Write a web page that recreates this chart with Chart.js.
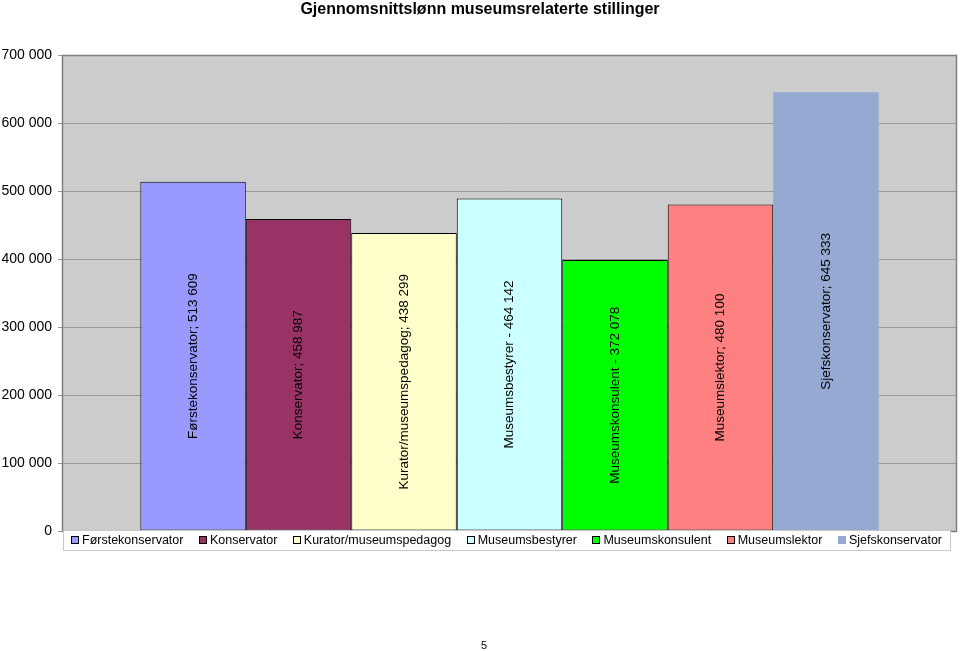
<!DOCTYPE html>
<html>
<head>
<meta charset="utf-8">
<script src="https://cdn.jsdelivr.net/npm/chart.js@4/dist/chart.umd.min.js"></script>
<style>
html,body{margin:0;padding:0;background:#fff;}
canvas{display:block;}
</style>
</head>
<body>
<canvas id="c" width="960" height="651"></canvas>
<script>
const chartTitle = 'Gjennomsnittslønn museumsrelaterte stillinger';
const categories = ['Førstekonservator','Konservator','Kurator/museumspedagog','Museumsbestyrer','Museumskonsulent','Museumslektor','Sjefskonservator'];
// bar heights as drawn in the picture
const barValues = [513609, 458987, 438299, 489000, 398500, 480100, 645333];
// numbers printed in the data labels
const labelValues = [513609, 458987, 438299, 464142, 372078, 480100, 645333];
const labelSeparators = ['; ', '; ', '; ', ' - ', ' - ', '; ', '; '];
const yTicks = [0, 100000, 200000, 300000, 400000, 500000, 600000, 700000];
const barColors = ['#9999FF','#993366','#FFFFCC','#CCFFFF','#00FF00','#FF8080','#95A9D2'];
const barBorderWidths = [1,1,1,1,1,1,0];
const pageNumber = '5';

const FONT = "'Liberation Sans', Arial, sans-serif";
function fmt(v){ return String(v).replace(/\B(?=(\d{3})+(?!\d))/g, ' '); }

const deco = {
  id: 'deco',
  beforeDraw(chart){
    const {ctx, chartArea:a} = chart;
    ctx.save();
    ctx.fillStyle = '#fff';
    ctx.fillRect(0,0,chart.width,chart.height);
    ctx.fillStyle = '#CCCCCC';
    ctx.fillRect(a.left, a.top, a.right-a.left, a.bottom-a.top);
    ctx.restore();
  },
  beforeDatasetsDraw(chart){
    const {ctx, chartArea:a} = chart;
    ctx.save();
    ctx.strokeStyle = '#808080';
    ctx.lineWidth = 1.5;
    ctx.strokeRect(a.left+0.5, a.top+0.5, a.right-a.left-1, a.bottom-a.top);
    ctx.restore();
  },
  afterDatasetsDraw(chart){
    const ctx = chart.ctx;
    ctx.save();
    ctx.fillStyle = '#000';
    ctx.font = '13.5px ' + FONT;
    ctx.textAlign = 'center';
    ctx.textBaseline = 'middle';
    chart.data.datasets.forEach((ds, i) => {
      const el = chart.getDatasetMeta(i).data[0];
      const cx = el.x, cy = (el.y + el.base)/2;
      ctx.save();
      ctx.translate(cx, cy);
      ctx.rotate(-Math.PI/2);
      ctx.fillText(categories[i] + labelSeparators[i] + fmt(labelValues[i]), 0, 0);
      ctx.restore();
    });
    ctx.restore();
  },
  afterDraw(chart){
    const ctx = chart.ctx;
    ctx.save();
    // title
    ctx.fillStyle = '#000';
    ctx.font = 'bold 16px ' + FONT;
    ctx.textAlign = 'center';
    ctx.textBaseline = 'middle';
    ctx.fillText(chartTitle, 480, 10);
    // legend
    const bx = 63, by = 530, bw = 887, bh = 20;
    ctx.fillStyle = '#fff';
    ctx.fillRect(bx, by, bw, bh);
    ctx.strokeStyle = '#C8C8C8';
    ctx.lineWidth = 1;
    ctx.strokeRect(bx+0.5, by+0.5, bw, bh);
    ctx.font = '12.5px ' + FONT;
    const sq = 8, g1 = 3, g2 = 15.5;
    const widths = categories.map(c => ctx.measureText(c).width);
    let total = widths.reduce((s,w)=>s+sq+g1+w,0) + g2*(categories.length-1);
    let x = bx + (bw - total)/2;
    const cy = by + bh/2;
    ctx.textAlign = 'left';
    categories.forEach((c,i) => {
      const sx = Math.round(x);
      ctx.fillStyle = barColors[i];
      ctx.fillRect(sx, cy-4, sq, sq);
      if (barBorderWidths[i] > 0) {
        ctx.strokeStyle = '#000';
        ctx.strokeRect(sx+0.5, cy-3.5, sq-1, sq-1);
      }
      ctx.fillStyle = '#000';
      ctx.fillText(c, x+sq+g1, cy+0.5);
      x += sq + g1 + widths[i] + g2;
    });
    // page number
    ctx.font = '11px ' + FONT;
    ctx.textAlign = 'center';
    ctx.fillText(pageNumber, 484, 646);
    ctx.restore();
  }
};

new Chart(document.getElementById('c'), {
  type: 'bar',
  data: {
    labels: [''],
    datasets: categories.map((c,i) => ({
      label: c,
      data: [barValues[i]],
      backgroundColor: barColors[i],
      borderColor: '#000',
      borderWidth: barBorderWidths[i],
      borderSkipped: false,
      categoryPercentage: 0.825,
      barPercentage: 1.0
    }))
  },
  options: {
    responsive: false,
    animation: false,
    devicePixelRatio: 1,
    layout: { padding: { top: 55, left: 0, right: 3, bottom: 120 } },
    scales: {
      x: { display: false },
      y: {
        min: 0, max: 700000,
        afterBuildTicks(s){ s.ticks = yTicks.map(v => ({value: v})); },
        afterFit(s){ s.width = 62; },
        ticks: {
          callback: v => fmt(v),
          color: '#000',
          font: { size: 14, family: FONT },
          padding: 6
        },
        grid: { color: '#999999', lineWidth: 1, tickLength: 4 },
        border: { display: false }
      }
    },
    plugins: {
      legend: { display: false },
      tooltip: { enabled: false },
      title: { display: false }
    }
  },
  plugins: [deco]
});
</script>
</body>
</html>
